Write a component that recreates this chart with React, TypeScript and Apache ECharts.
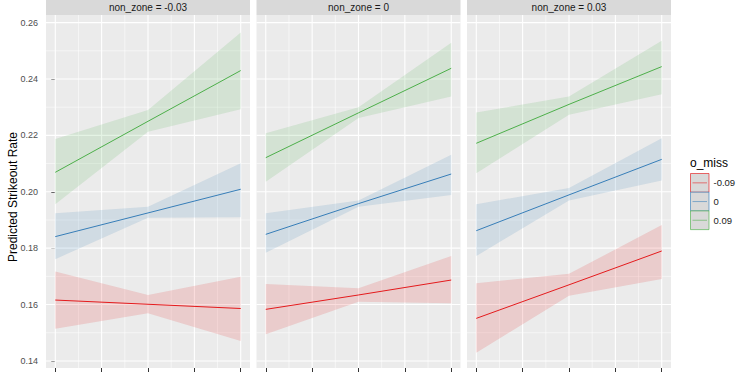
import React, { useEffect, useRef } from "react";
import * as echarts from "echarts";

// ---- data ----
const facetLabels = ["non_zone = -0.03", "non_zone = 0", "non_zone = 0.03"];
const groupLabels = ["-0.09", "0", "0.09"];
const groupColors = ["#E41A1C", "#377EB8", "#4DAF4A"];
const xPoints = [0, 2, 4];
const xTicks = [0, 1, 2, 3, 4];
const xMinor = [0.5, 1.5, 2.5, 3.5];
const yTicks = [0.14, 0.16, 0.18, 0.2, 0.22, 0.24, 0.26];
const yMinor = [0.15, 0.17, 0.19, 0.21, 0.23, 0.25];

// facet 1 (non_zone = -0.03): [red, blue, green]
const fit1 = [[0.1616, 0.1601, 0.1586], [0.1841, 0.1925, 0.2009], [0.2069, 0.225, 0.243]];
const lo1 = [[0.1514, 0.1569, 0.1471], [0.1761, 0.1908, 0.191], [0.1956, 0.2213, 0.2293]];
const hi1 = [[0.1717, 0.1634, 0.1699], [0.1924, 0.1947, 0.2101], [0.2187, 0.229, 0.2565]];
// facet 2 (non_zone = 0)
const fit2 = [[0.1583, 0.1634, 0.1687], [0.1849, 0.1958, 0.2063], [0.2121, 0.228, 0.2438]];
const lo2 = [[0.1495, 0.161, 0.1605], [0.1784, 0.1947, 0.1989], [0.2036, 0.2262, 0.2338]];
const hi2 = [[0.1673, 0.1658, 0.1772], [0.1924, 0.1969, 0.2131], [0.2208, 0.23, 0.2529]];
// facet 3 (non_zone = 0.03)
const fit3 = [[0.1551, 0.167, 0.179], [0.1862, 0.1989, 0.2115], [0.2172, 0.231, 0.2444]];
const lo3 = [[0.1429, 0.1631, 0.1691], [0.1772, 0.1969, 0.204], [0.2066, 0.2273, 0.2346]];
const hi3 = [[0.1676, 0.1709, 0.1882], [0.1956, 0.2013, 0.219], [0.2281, 0.2338, 0.2536]];

const fits = [fit1, fit2, fit3];
const los = [lo1, lo2, lo3];
const his = [hi1, hi2, hi3];

// ---- layout ----
const X_MIN = -0.2;
const X_MAX = 4.2;
const Y_MIN = 0.1375;
const Y_MAX = 0.2627;
const panelLeft = [46, 256.5, 467];
const panelWidth = 204;
const panelTop = 15;
const panelHeight = 353;
const FONT = "'Liberation Sans', Arial, sans-serif";

function hexToRgba(hex: string, a: number) {
  const n = parseInt(hex.slice(1), 16);
  return `rgba(${(n >> 16) & 255},${(n >> 8) & 255},${n & 255},${a})`;
}

function buildOption() {
  const grids: any[] = [];
  const xAxes: any[] = [];
  const yAxes: any[] = [];
  const series: any[] = [];
  const graphics: any[] = [];

  for (let f = 0; f < 3; f++) {
    grids.push({
      left: panelLeft[f],
      top: panelTop,
      width: panelWidth,
      height: panelHeight,
      show: true,
      backgroundColor: "#EBEBEB",
      borderWidth: 0,
      containLabel: false,
    });
    xAxes.push({
      type: "value",
      gridIndex: f,
      min: X_MIN,
      max: X_MAX,
      splitLine: { show: false },
      axisLine: { show: false },
      axisLabel: { show: false },
      axisTick: {
        show: true,
        customValues: xTicks,
        length: 4,
        lineStyle: { color: "#333333", width: 1 },
      },
    });
    yAxes.push({
      type: "value",
      gridIndex: f,
      min: Y_MIN,
      max: Y_MAX,
      splitLine: { show: false },
      axisLine: { show: false },
      axisLabel:
        f === 0
          ? {
              show: true,
              customValues: yTicks,
              formatter: (v: number) => v.toFixed(2),
              color: "#4D4D4D",
              fontSize: 9,
              fontFamily: FONT,
              margin: 8,
            }
          : { show: false },
      axisTick:
        f === 0
          ? {
              show: true,
              customValues: yTicks,
              length: 4,
              lineStyle: { color: "#333333", width: 1 },
            }
          : { show: false },
    });

    // grid lines
    const gridData: number[][] = [
      ...yMinor.map((v) => [3, v]),
      ...xMinor.map((v) => [1, v]),
      ...yTicks.map((v) => [2, v]),
      ...xTicks.map((v) => [0, v]),
    ];
    series.push({
      type: "custom",
      xAxisIndex: f,
      yAxisIndex: f,
      silent: true,
      z: 1,
      data: gridData,
      renderItem: (params: any, api: any) => {
        const k = api.value(0);
        const v = api.value(1);
        let p1, p2;
        if (k < 2) {
          p1 = api.coord([v, Y_MIN]);
          p2 = api.coord([v, Y_MAX]);
        } else {
          p1 = api.coord([X_MIN, v]);
          p2 = api.coord([X_MAX, v]);
        }
        return {
          type: "line",
          shape: { x1: p1[0], y1: p1[1], x2: p2[0], y2: p2[1] },
          style: { stroke: "#FFFFFF", lineWidth: k === 0 || k === 2 ? 1.1 : 0.55 },
        };
      },
    });

    for (let g = 0; g < 3; g++) {
      const lo = los[f][g];
      const hi = his[f][g];
      const fit = fits[f][g];
      const n = xPoints.length;
      // one item holding the whole ribbon: [x0, lo0, hi0, x1, lo1, hi1, ...]
      const bandItem: number[] = [];
      xPoints.forEach((x, i) => bandItem.push(x, lo[i], hi[i]));
      const fill = hexToRgba(groupColors[g], 0.15);
      series.push({
        type: "custom",
        xAxisIndex: f,
        yAxisIndex: f,
        silent: true,
        z: 2,
        dimensions: bandItem.map((_, i) => "d" + i),
        encode: { x: 0, y: 1 },
        data: [bandItem],
        renderItem: (params: any, api: any) => {
          const upper: number[][] = [];
          const lower: number[][] = [];
          for (let i = 0; i < n; i++) {
            const x = api.value(i * 3);
            lower.push(api.coord([x, api.value(i * 3 + 1)]));
            upper.push(api.coord([x, api.value(i * 3 + 2)]));
          }
          return {
            type: "polygon",
            shape: { points: upper.concat(lower.reverse()) },
            style: { fill },
          };
        },
      });
      series.push({
        type: "line",
        name: groupLabels[g],
        xAxisIndex: f,
        yAxisIndex: f,
        symbol: "none",
        z: 4,
        lineStyle: { color: groupColors[g], width: 1 },
        data: xPoints.map((x, i) => [x, fit[i]]),
      });
    }

    // strip
    graphics.push({
      type: "rect",
      shape: { x: panelLeft[f], y: 0, width: panelWidth, height: panelTop },
      style: { fill: "#D9D9D9" },
      silent: true,
    });
    graphics.push({
      type: "text",
      x: panelLeft[f] + panelWidth / 2,
      y: 7.5,
      style: {
        text: facetLabels[f],
        fill: "#1A1A1A",
        fontSize: 10,
        fontFamily: FONT,
        align: "center",
        verticalAlign: "middle",
      },
    });
  }

  // y axis title
  graphics.push({
    type: "text",
    x: 12.5,
    y: 197,
    rotation: Math.PI / 2,
    style: {
      text: "Predicted Strikeout Rate",
      fill: "#000000",
      fontSize: 12,
      fontFamily: FONT,
      align: "center",
      verticalAlign: "middle",
    },
  });

  // legend
  graphics.push({
    type: "text",
    x: 690,
    y: 163,
    style: {
      text: "o_miss",
      fill: "#000000",
      fontSize: 12,
      fontFamily: FONT,
      align: "left",
      verticalAlign: "middle",
    },
  });
  const keyTop = 173.5;
  const keySize = 18.7;
  for (let g = 0; g < 3; g++) {
    const y0 = keyTop + g * keySize;
    graphics.push({
      type: "rect",
      shape: { x: 690.5, y: y0, width: 18.5, height: keySize },
      style: { fill: "#D9D9D9", stroke: hexToRgba(groupColors[g], 0.65), lineWidth: 1 },
      silent: true,
    });
    graphics.push({
      type: "line",
      shape: { x1: 692.5, y1: y0 + keySize / 2, x2: 707, y2: y0 + keySize / 2 },
      style: { stroke: hexToRgba(groupColors[g], 0.55), lineWidth: 1 },
      silent: true,
    });
    graphics.push({
      type: "text",
      x: 713.5,
      y: y0 + keySize / 2,
      style: {
        text: groupLabels[g],
        fill: "#1A1A1A",
        fontSize: 9.5,
        fontFamily: FONT,
        align: "left",
        verticalAlign: "middle",
      },
    });
  }

  return {
    animation: false,
    backgroundColor: "#FFFFFF",
    textStyle: { fontFamily: FONT },
    grid: grids,
    xAxis: xAxes,
    yAxis: yAxes,
    series,
    graphic: graphics,
  };
}

export default function App() {
  const ref = useRef<HTMLDivElement>(null);
  useEffect(() => {
    if (!ref.current) return;
    const chart = echarts.init(ref.current, null, { renderer: "svg" });
    chart.setOption(buildOption() as any);
    return () => chart.dispose();
  }, []);
  return (
    <div
      ref={ref}
      style={{ position: "absolute", left: 0, top: 0, width: 750, height: 375 }}
    />
  );
}
